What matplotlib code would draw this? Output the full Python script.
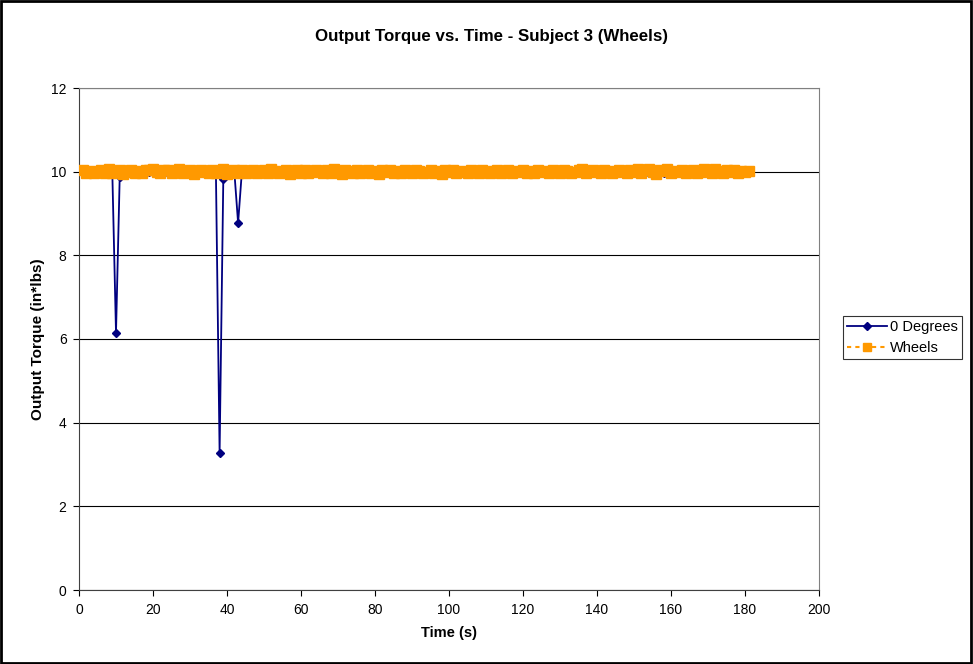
import numpy as np
import matplotlib
matplotlib.use("Agg")
import matplotlib.pyplot as plt
from matplotlib.patches import Rectangle
from matplotlib.lines import Line2D

plt.rcParams['font.family'] = ['Liberation Sans', 'DejaVu Sans']

# Sample times (s)
time_s = np.arange(1, 182)

# Output torque, 0 degrees trial (in*lbs)
torque_0deg = [
    10.00, 9.99, 10.00, 9.98, 10.00, 9.99, 9.98, 10.00, 9.99, 6.15,
    9.87, 9.99, 10.00, 9.98, 9.99, 10.00, 9.98, 9.99, 10.00, 9.99,
    9.98, 10.00, 9.99, 9.97, 10.00, 9.99, 9.98, 10.00, 9.99, 9.97,
    10.00, 9.99, 9.98, 10.00, 9.99, 9.98, 10.00, 3.28, 9.82, 9.99,
    10.00, 9.98, 8.77, 9.98, 10.00, 9.99, 9.97, 10.00, 9.98, 9.99,
    10.00, 9.97, 9.99, 10.00, 9.98, 9.99, 10.00, 9.97, 9.99, 10.00,
    9.98, 9.99, 9.97, 10.00, 9.99, 9.98, 10.00, 9.99, 9.97, 10.00,
    9.98, 9.99, 10.00, 9.98, 9.96, 9.99, 10.00, 9.98, 9.99, 9.97,
    10.00, 9.99, 9.98, 10.00, 9.99, 9.97, 9.99, 10.00, 9.98, 9.99,
    10.00, 9.98, 9.99, 9.97, 10.00, 9.99, 9.98, 10.00, 9.99, 9.98,
    9.97, 10.00, 9.99, 9.98, 10.00, 9.99, 9.97, 10.00, 9.98, 9.99,
    10.00, 9.98, 9.99, 9.96, 10.00, 9.99, 9.98, 10.00, 9.99, 9.97,
    10.00, 9.98, 9.99, 10.00, 9.97, 9.99, 10.00, 9.98, 9.99, 10.00,
    9.98, 9.99, 9.97, 10.00, 9.99, 9.98, 10.00, 9.99, 9.97, 10.00,
    9.98, 9.99, 10.00, 9.98, 9.99, 9.97, 10.00, 9.99, 9.98, 10.00,
    9.99, 9.97, 10.00, 9.98, 9.99, 10.00, 9.98, 9.96, 9.99, 10.00,
    9.98, 9.99, 10.00, 9.97, 9.99, 10.00, 9.98, 9.99, 10.00, 9.98,
    9.99, 10.00, 9.97, 9.99, 10.00, 9.98, 9.99, 10.00, 9.99, 10.00,
    10.00,
]

# Output torque, wheels trial (in*lbs)
torque_wheels = [
    10.03, 9.98, 10.02, 9.96, 10.00, 10.05, 9.98, 10.06, 9.97, 10.02,
    10.05, 9.95, 10.00, 10.03, 9.98, 10.02, 9.96, 10.05, 10.03, 10.06,
    10.00, 9.97, 10.03, 10.05, 9.98, 10.02, 10.06, 9.96, 10.00, 10.03,
    9.95, 10.02, 10.05, 10.00, 9.96, 10.03, 9.98, 10.02, 10.06, 9.95,
    10.00, 10.05, 9.98, 10.03, 9.96, 10.02, 10.05, 9.98, 10.00, 10.03,
    9.96, 10.06, 10.02, 9.98, 10.00, 10.03, 9.95, 10.02, 10.05, 9.98,
    10.03, 9.96, 10.00, 10.05, 10.02, 9.96, 10.03, 9.98, 10.06, 10.00,
    9.95, 10.03, 10.02, 9.98, 10.05, 9.96, 10.00, 10.03, 9.98, 10.02,
    9.95, 10.03, 10.00, 10.05, 9.98, 10.02, 9.96, 10.03, 10.00, 9.98,
    10.05, 10.02, 9.96, 10.00, 10.03, 9.98, 10.02, 9.95, 10.03, 10.00,
    10.05, 9.98, 10.02, 10.00, 9.96, 10.03, 10.02, 9.98, 10.05, 10.00,
    9.96, 10.02, 10.03, 9.98, 10.00, 10.05, 9.96, 10.02, 10.00, 10.03,
    9.98, 10.02, 9.96, 10.03, 10.00, 10.02, 9.98, 10.05, 10.00, 9.96,
    10.03, 10.02, 9.98, 10.00, 10.03, 10.06, 9.98, 10.02, 10.05, 10.00,
    9.96, 10.03, 10.02, 9.98, 10.00, 10.05, 10.02, 9.96, 10.03, 10.00,
    10.06, 9.98, 10.03, 10.07, 10.00, 9.95, 10.03, 10.02, 10.06, 9.98,
    10.02, 10.00, 10.03, 9.98, 10.02, 10.05, 9.96, 10.00, 10.06, 10.03,
    9.98, 10.07, 10.02, 9.96, 10.05, 10.00, 10.03, 9.98, 10.02, 10.00,
    10.01,
]

x_ticks = list(range(0, 201, 20))
y_ticks = list(range(0, 13, 2))

W, H = 973, 664
fig = plt.figure(figsize=(W / 100, H / 100), dpi=100)
ax = fig.add_axes([79 / W, 1 - 590 / H, (819 - 79) / W, (590 - 88) / H])

navy = '#000080'
orange = '#FF9900'

ax.plot(time_s, torque_0deg, color=navy, lw=1.3, marker='D', ms=4,
        label='0 Degrees', zorder=3)
ax.plot(time_s, torque_wheels, color=orange, lw=1.5, ls=(0, (2, 2)),
        marker='s', ms=6.5, mec=orange, label='Wheels', zorder=4)

ax.set_xlim(0, 200)
ax.set_ylim(0, 12)
ax.set_xticks(x_ticks)
ax.set_yticks(y_ticks)
ax.yaxis.grid(True, color='black', lw=0.8)
ax.set_axisbelow(True)
ax.tick_params(direction='out', length=4, width=0.8, labelsize=10, pad=5)
for s in ('top', 'right'):
    ax.spines[s].set_color('#808080')
for s in ('left', 'bottom'):
    ax.spines[s].set_color('#404040')

ax.set_xlabel('Time (s)', fontsize=10.5, fontweight='bold', labelpad=7)
ax.set_ylabel('Output Torque (in*lbs)', fontsize=11, fontweight='bold', labelpad=4)
fig.text(491 / W, 1 - 37 / H, 'Output Torque vs. Time - Subject 3 (Wheels)',
         ha='center', va='center', fontsize=12.2, fontweight='bold')

# Legend samples
h0 = Line2D([], [], color=navy, lw=1.3, marker='D', ms=4)
h1 = Line2D([], [], color=orange, lw=1.5, ls=(0, (2, 2)), marker='s', ms=6)
leg = fig.legend([h0, h1], ['0 Degrees', 'Wheels'], loc='upper left',
                 bbox_to_anchor=(843 / W, 1 - 316 / H), fontsize=10.5,
                 frameon=True, fancybox=False, edgecolor='black',
                 handlelength=2.75, handletextpad=0.15, borderpad=0.3,
                 labelspacing=0.45, borderaxespad=0)
leg.get_frame().set_linewidth(0.8)

fig.patches.append(Rectangle((0.001, 0.001), 0.997, 0.997, transform=fig.transFigure,
                             fill=False, edgecolor='black', lw=2))

fig.savefig('out.png', dpi=100)
